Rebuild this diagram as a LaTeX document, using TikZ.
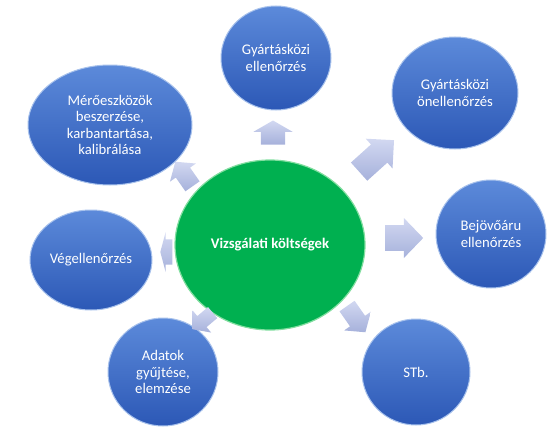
\documentclass[tikz,border=0pt]{standalone}
\usepackage{fontspec}
\setmainfont{Carlito}
\usetikzlibrary{shapes.geometric,shapes.arrows}
\definecolor{bubbletop}{RGB}{92,138,218}
\definecolor{bubblebot}{RGB}{44,88,182}
\definecolor{bubblerim}{RGB}{168,194,236}
\definecolor{hubgreen}{RGB}{0,176,80}
\definecolor{hubrim}{RGB}{130,222,160}
\definecolor{arrowtop}{RGB}{210,216,241}
\definecolor{arrowbot}{RGB}{166,177,219}
\begin{document}
\begin{tikzpicture}[x=1pt,y=-1pt,
  bubble/.style={ellipse, inner sep=0pt, align=center, text=white,
    top color=bubbletop, bottom color=bubblebot, draw=bubblerim, line width=1pt,
    font=\fontsize{14.7}{16.3}\selectfont},
  hub/.style={ellipse, inner sep=0pt, align=center, text=white,
    fill=hubgreen, draw=hubrim, line width=1.2pt,
    font=\fontsize{14.7}{16.3}\selectfont\bfseries},
  blockarrow/.style={single arrow, inner xsep=0pt, single arrow head indent=0pt,
    top color=arrowtop, bottom color=arrowbot, draw=none}]
\useasboundingbox (0,0) rectangle (548,428);
% centre
\node[hub, minimum width=190pt, minimum height=170pt] (cost) at (270,245) {Vizsgálati költségek};
% satellites
\node[bubble, minimum width=110pt, minimum height=104pt] (inproc) at (276,58) {Gyártásközi\\ellenőrzés};
\node[bubble, minimum width=126pt, minimum height=112pt] (self) at (455,93) {Gyártásközi\\önellenőrzés};
\node[bubble, minimum width=110pt, minimum height=108pt] (incoming) at (491,234) {Bejövőáru\\ellenőrzés};
\node[bubble, minimum width=108pt, minimum height=106pt] (etc) at (416,372) {STb.};
\node[bubble, minimum width=110pt, minimum height=108pt] (data) at (163,372) {Adatok\\gyűjtése,\\elemzése};
\node[bubble, minimum width=122pt, minimum height=100pt] (final) at (91,260) {Végellenőrzés};
\node[bubble, minimum width=164pt, minimum height=120pt] (tools) at (110,125) {Mérőeszközök\\beszerzése,\\karbantartása,\\kalibrálása};
% arrows
\node[blockarrow, rotate=90, minimum height=24pt, minimum width=39pt, inner ysep=11.5pt, single arrow tip angle=120] (aup) at (273,136) {};
\node[blockarrow, rotate=42, minimum height=47pt, minimum width=40pt, inner ysep=11pt, single arrow tip angle=90] (aself) at (372,160) {};
\node[blockarrow, rotate=0, minimum height=38pt, minimum width=40pt, inner ysep=12.5pt, single arrow tip angle=92] (ain) at (398,238) {};
\node[blockarrow, rotate=-55, minimum height=32pt, minimum width=30pt, inner ysep=9pt, single arrow tip angle=100] (aetc) at (354,316) {};
\node[blockarrow, rotate=-140, minimum height=26pt, minimum width=22pt, inner ysep=7pt, single arrow tip angle=100] (adata) at (205,319) {};
\node[blockarrow, rotate=180, minimum height=12pt, minimum width=40pt, inner ysep=12pt, single arrow tip angle=150] (afinal) at (168,252) {};
\node[blockarrow, rotate=125, minimum height=30pt, minimum width=28pt, inner ysep=8.5pt, single arrow tip angle=100] (atools) at (186,177) {};
\end{tikzpicture}
\end{document}
